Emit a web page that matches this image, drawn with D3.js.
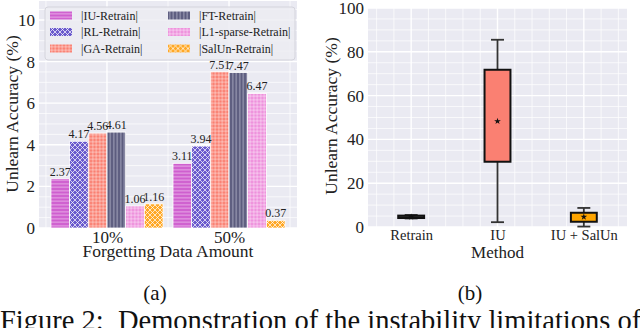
<!DOCTYPE html>
<html>
<head>
<meta charset="utf-8">
<script src="https://cdn.jsdelivr.net/npm/d3@7"></script>
<style>
  body { margin: 0; background: #fff; }
  svg { display: block; font-family: "Liberation Serif", "DejaVu Serif", serif; }
</style>
</head>
<body>
<svg id="chart" width="640" height="328"></svg>
<script>
// ---- data (a): bar chart
var groups = ['10%', '50%'];
var methods = ['|IU-Retrain|', '|RL-Retrain|', '|GA-Retrain|', '|FT-Retrain|', '|L1-sparse-Retrain|', '|SalUn-Retrain|'];
var values10 = [2.37, 4.17, 4.56, 4.61, 1.06, 1.16];
var values50 = [3.11, 3.94, 7.51, 7.47, 6.47, 0.37];
var barTicks = [0, 2, 4, 6, 8, 10];

// ---- data (b): box plot
var boxMethods = ['Retrain', 'IU', 'IU + SalUn'];
var boxWhiskerLow = [3.9, 2.2, 0.2];
var boxQ1 = [4.1, 29.8, 2.4];
var boxQ3 = [5.2, 71.8, 6.5];
var boxWhiskerHigh = [5.5, 85.5, 8.7];
var boxMean = [4.6, 48.3, 4.6];
var boxTicks = [0, 20, 40, 60, 80, 100];

var svg = d3.select('#chart');
var defs = svg.append('defs');

// hatch patterns, one per method
var palette = ['#cf5fcf', '#6a5acd', '#fa8072', '#5c5c7e', '#ee90dc', '#ffa826'];
function pattern(id, base, kind) {
	var p = defs.append('pattern')
		.attr('id', id)
		.attr('patternUnits', 'userSpaceOnUse')
		.attr('width', kind == 'x' ? 5 : 3.5)
		.attr('height', kind == 'x' ? 5 : 3.5);
	p.append('rect').attr('width', 6).attr('height', 6).attr('fill', base);
	var s = 'rgba(255,255,255,0.55)';
	if (kind == 'h') p.append('path').attr('d', 'M0,1.75H3.5').attr('stroke', s).attr('stroke-width', 0.9);
	if (kind == 'v') p.append('path').attr('d', 'M1.75,0V3.5').attr('stroke', 'rgba(230,230,245,0.6)').attr('stroke-width', 0.9);
	if (kind == '+') p.append('path').attr('d', 'M0,1.75H3.5M1.75,0V3.5').attr('stroke', s).attr('stroke-width', 0.8);
	if (kind == 'x') p.append('path').attr('d', 'M0,0L5,5M5,0L0,5').attr('stroke', 'rgba(255,255,255,0.7)').attr('stroke-width', 1);
}
var kinds = ['h', 'x', '+', 'v', '+', 'x'];
methods.forEach(function(m, i) { pattern('hatch' + i, palette[i], kinds[i]); });

function drawGrid(g, x, y, xLines, yLines, majX, majY, x0, x1, y0, y1) {
	g.append('rect')
		.attr('x', x0).attr('y', y1)
		.attr('width', x1 - x0).attr('height', y0 - y1)
		.attr('fill', '#eaeaf2');
	g.selectAll('.hgrid').data(yLines).enter().append('line')
		.attr('x1', x0).attr('x2', x1)
		.attr('y1', function(d) { return y(d); })
		.attr('y2', function(d) { return y(d); })
		.attr('stroke', '#fff')
		.attr('stroke-width', function(d) { return majY(d) ? 1.4 : 0.7; });
	g.selectAll('.vgrid').data(xLines).enter().append('line')
		.attr('y1', y1).attr('y2', y0)
		.attr('x1', function(d) { return x(d); })
		.attr('x2', function(d) { return x(d); })
		.attr('stroke', '#fff')
		.attr('stroke-width', function(d) { return majX(d) ? 1.4 : 0.7; });
}

// ================= (a) =================
var aLeft = 39, aRight = 297, aTop = 1, aBottom = 228;
var xA = d3.scaleLinear().domain([-0.557, 1.557]).range([aLeft, aRight]);
var yA = d3.scaleLinear().domain([0, 10.91]).range([aBottom, aTop]);
var gA = svg.append('g');

var hA = d3.range(0, 11, 0.5);
var vA = [-0.5, 0, 0.5, 1, 1.5];
drawGrid(gA, xA, yA, vA, hA,
	function(d) { return Number.isInteger(d); },
	function(d) { return d % 2 == 0; },
	aLeft, aRight, aBottom, aTop);

var barW = 0.153;
var barData = [];
groups.forEach(function(gr, gi) {
	var vals = gi == 0 ? values10 : values50;
	vals.forEach(function(v, i) {
		barData.push({ g: gi, i: i, v: v });
	});
});
function barX(d) { return xA(d.g + (d.i - 3) * barW); }

gA.selectAll('.bar').data(barData).enter().append('rect')
	.attr('x', barX)
	.attr('y', function(d) { return yA(d.v); })
	.attr('width', xA(barW) - xA(0))
	.attr('height', function(d) { return yA(0) - yA(d.v); })
	.attr('fill', function(d) { return 'url(#hatch' + d.i + ')'; })
	.attr('stroke', '#fff')
	.attr('stroke-width', 0.8);

gA.selectAll('.lbl').data(barData).enter().append('text')
	.attr('x', function(d) { return barX(d) + (xA(barW) - xA(0)) / 2; })
	.attr('y', function(d) { return yA(d.v) - 3; })
	.attr('text-anchor', 'middle')
	.attr('font-size', 12)
	.attr('fill', '#222')
	.text(function(d) { return d.v.toFixed(2); });

// axes
var yAxisA = d3.axisLeft(yA).tickValues(barTicks).tickSize(0).tickPadding(4);
gA.append('g')
	.attr('transform', 'translate(' + aLeft + ',0)')
	.call(yAxisA)
	.call(function(g) { g.select('.domain').remove(); })
	.selectAll('text').attr('font-size', 17).attr('font-family', 'Liberation Serif').attr('fill', '#222');

var xAxisA = d3.axisBottom(xA).tickValues([0, 1]).tickFormat(function(d) { return groups[d]; }).tickSize(0).tickPadding(3);
gA.append('g')
	.attr('transform', 'translate(0,' + aBottom + ')')
	.call(xAxisA)
	.call(function(g) { g.select('.domain').remove(); })
	.selectAll('text').attr('font-size', 17).attr('font-family', 'Liberation Serif').attr('fill', '#222');

gA.append('text')
	.attr('x', 168).attr('y', 257)
	.attr('text-anchor', 'middle')
	.attr('font-size', 17.5).attr('fill', '#222')
	.text('Forgetting Data Amount');

gA.append('text')
	.attr('transform', 'translate(18,' + 114 + ') rotate(-90)')
	.attr('text-anchor', 'middle')
	.attr('font-size', 17.5).attr('fill', '#222')
	.text('Unlearn Accuracy (%)');

// legend
var leg = gA.append('g');
leg.append('rect')
	.attr('x', 45).attr('y', 7).attr('width', 250).attr('height', 53)
	.attr('rx', 3)
	.attr('fill', 'rgba(236,236,242,0.85)')
	.attr('stroke', '#d4d4dc').attr('stroke-width', 1);
var legItems = leg.selectAll('.li').data(methods).enter().append('g')
	.attr('transform', function(d, i) {
		var col = i < 3 ? 0 : 1, row = i % 3;
		return 'translate(' + (col ? 168 : 50) + ',' + (15.5 + row * 16.5) + ')';
	});
legItems.append('rect')
	.attr('x', 0).attr('y', -4).attr('width', 22).attr('height', 8)
	.attr('fill', function(d, i) { return 'url(#hatch' + i + ')'; });
legItems.append('text')
	.attr('x', 31).attr('y', 4.2)
	.attr('font-size', 12).attr('fill', '#222')
	.text(function(d) { return d; });

// ================= (b) =================
var bLeft = 368, bRight = 627, bTop = 8, bBottom = 227;
var xB = d3.scaleLinear().domain([-0.5, 2.5]).range([bLeft, bRight]);
var yB = d3.scaleLinear().domain([0, 100]).range([bBottom, bTop]);
var gB = svg.append('g');

drawGrid(gB, xB, yB, d3.range(-0.4, 2.5, 0.2).map(function(d) { return Math.round(d * 10) / 10; }), d3.range(0, 101, 5),
	function(d) { return Number.isInteger(d); },
	function(d) { return d % 20 == 0; },
	bLeft, bRight, bBottom, bTop);

var boxFill = ['#3a3a3a', '#fa8072', '#ffa500'];
var boxW = 0.3;
var boxes = boxMethods.map(function(m, i) {
	return { i: i, lo: boxWhiskerLow[i], q1: boxQ1[i], q3: boxQ3[i], hi: boxWhiskerHigh[i], mean: boxMean[i] };
});
var bx = gB.selectAll('.box').data(boxes).enter().append('g');
// whiskers
bx.append('line')
	.attr('x1', function(d) { return xB(d.i); }).attr('x2', function(d) { return xB(d.i); })
	.attr('y1', function(d) { return yB(d.hi); }).attr('y2', function(d) { return yB(d.q3); })
	.attr('stroke', '#333').attr('stroke-width', 1.8);
bx.append('line')
	.attr('x1', function(d) { return xB(d.i); }).attr('x2', function(d) { return xB(d.i); })
	.attr('y1', function(d) { return yB(d.lo); }).attr('y2', function(d) { return yB(d.q1); })
	.attr('stroke', '#333').attr('stroke-width', 1.8);
bx.selectAll('.cap').data(function(d) { return [d, d]; }).enter().append('line')
	.attr('x1', function(d) { return xB(d.i - boxW / 4); }).attr('x2', function(d) { return xB(d.i + boxW / 4); })
	.attr('y1', function(d, k) { return yB(k ? d.hi : d.lo); })
	.attr('y2', function(d, k) { return yB(k ? d.hi : d.lo); })
	.attr('stroke', '#333').attr('stroke-width', 1.8);
bx.append('rect')
	.attr('x', function(d) { return xB(d.i - boxW / 2); })
	.attr('width', xB(boxW) - xB(0))
	.attr('y', function(d) { return yB(d.q3); })
	.attr('height', function(d) { return yB(d.q1) - yB(d.q3); })
	.attr('fill', function(d) { return boxFill[d.i]; })
	.attr('stroke', '#111').attr('stroke-width', 2);
bx.append('path')
	.attr('transform', function(d) { return 'translate(' + xB(d.i) + ',' + yB(d.mean) + ')'; })
	.attr('d', d3.symbol(d3.symbolStar, 14))
	.attr('fill', '#111');

var yAxisB = d3.axisLeft(yB).tickValues(boxTicks).tickSize(0).tickPadding(4);
gB.append('g')
	.attr('transform', 'translate(' + bLeft + ',0)')
	.call(yAxisB)
	.call(function(g) { g.select('.domain').remove(); })
	.selectAll('text').attr('font-size', 17).attr('font-family', 'Liberation Serif').attr('fill', '#222');

var xAxisB = d3.axisBottom(xB).tickValues([0, 1, 2]).tickFormat(function(d) { return boxMethods[d]; }).tickSize(0).tickPadding(3);
gB.append('g')
	.attr('transform', 'translate(0,' + bBottom + ')')
	.call(xAxisB)
	.call(function(g) { g.select('.domain').remove(); })
	.selectAll('text').attr('font-size', 14.5).attr('font-family', 'Liberation Serif').attr('fill', '#222');

gB.append('text')
	.attr('x', xB(1)).attr('y', 258)
	.attr('text-anchor', 'middle')
	.attr('font-size', 17).attr('fill', '#222')
	.text('Method');

gB.append('text')
	.attr('transform', 'translate(337,' + 116 + ') rotate(-90)')
	.attr('text-anchor', 'middle')
	.attr('font-size', 17.5).attr('fill', '#222')
	.text('Unlearn Accuracy (%)');

// ---- sub captions and figure caption
svg.append('text').attr('x', 155).attr('y', 300).attr('text-anchor', 'middle')
	.attr('font-size', 21).attr('fill', '#111').text('(a)');
svg.append('text').attr('x', 470).attr('y', 300).attr('text-anchor', 'middle')
	.attr('font-size', 21).attr('fill', '#111').text('(b)');
svg.append('text').attr('x', 0).attr('y', 330)
	.attr('font-size', 28.5).attr('fill', '#111')
	.attr('xml:space', 'preserve')
	.text('Figure 2:  Demonstration of the instability limitations of');
</script>
</body>
</html>
